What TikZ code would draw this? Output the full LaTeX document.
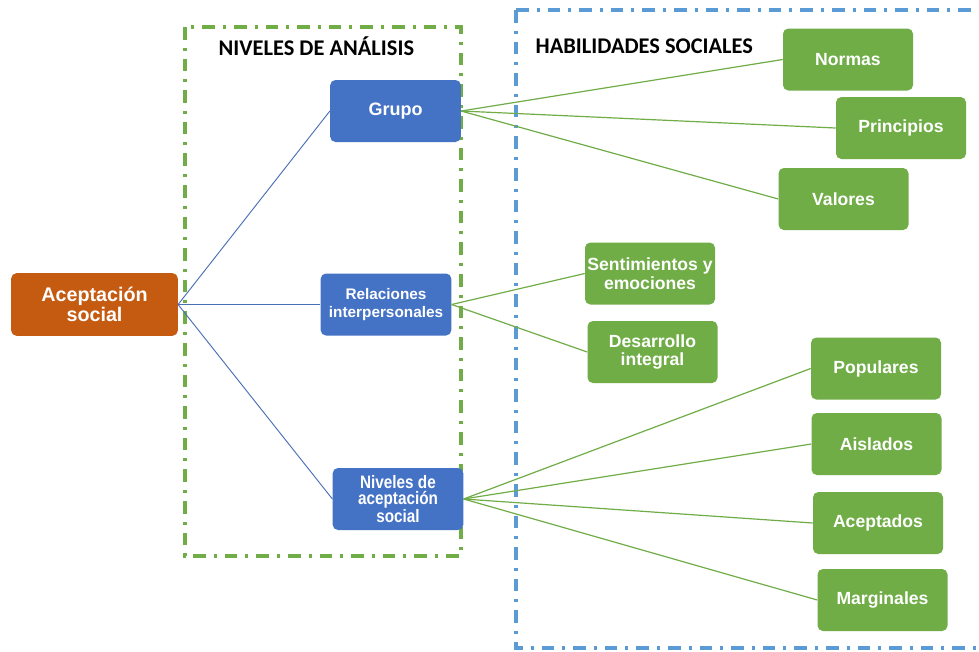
\documentclass[tikz,border=0pt]{standalone}
\usepackage{fontspec}
\setmainfont{Liberation Sans}
\newfontfamily\titlefont{Carlito}
\definecolor{orangeC}{HTML}{C55A11}
\definecolor{blueC}{HTML}{4472C4}
\definecolor{greenC}{HTML}{70AD47}
\definecolor{frameblue}{HTML}{5B9BD5}
\definecolor{linkblue}{HTML}{4A6FB5}
\begin{document}
\begin{tikzpicture}[x=0.75pt,y=-0.75pt,
  basebox/.style={rounded corners=4pt, text=white, font=\bfseries, align=center, inner sep=1pt},
  obox/.style={basebox, fill=orangeC, minimum width=125pt, minimum height=47pt, font=\bfseries\fontsize{14.8}{15.5}\selectfont},
  bbox/.style={basebox, fill=blueC, minimum width=98pt, minimum height=46.5pt, font=\bfseries\fontsize{13.5}{14.5}\selectfont},
  gbox/.style={basebox, fill=greenC, minimum width=97.5pt, minimum height=46.5pt, font=\bfseries\fontsize{13.2}{14}\selectfont},
  blink/.style={draw=linkblue, line width=0.7pt},
  glink/.style={draw=greenC, line width=0.9pt},
  frameG/.style={draw=greenC, line width=2.5pt, dash pattern=on 9.5pt off 6pt on 2.2pt off 6pt},
  frameB/.style={draw=frameblue, line width=2.5pt, dash pattern=on 9.5pt off 6pt on 2.2pt off 6pt},
  title/.style={font=\titlefont\bfseries\fontsize{16.8}{18}\selectfont, anchor=west}
]
\useasboundingbox (0,0) rectangle (979,651);
\fill[white] (0,0) rectangle (979,651);
% frames
\draw[frameG] (185,27) rectangle (461,556);
\draw[frameB] (516,10) -- (1000,10) (516,10) -- (516,648) -- (1000,648);
\node[title] (t1) at (214,46) {NIVELES DE ANÁLISIS};
\node[title] (t2) at (531,46) {HABILIDADES SOCIALES};
% nodes
\node[obox] (acep) at (94.5,304.5) {Aceptación\\social};
\node[bbox] (grupo) at (395.5,111) {Grupo};
\node[bbox, font=\bfseries\fontsize{11.5}{13}\selectfont] (rel) at (386,304.5) {Relaciones\\interpersonales};
\node[bbox, font=\bfseries\fontsize{13.5}{12.5}\selectfont] (niv) at (398,499) {\scalebox{0.85}[1]{Niveles de}\\\scalebox{0.85}[1]{aceptación}\\\scalebox{0.85}[1]{social}};
\node[gbox] (normas) at (848,59.5) {Normas};
\node[gbox] (princ) at (901,128) {Principios};
\node[gbox] (valores) at (843.5,199) {Valores};
\node[gbox] (sent) at (650,273.5) {Sentimientos y\\emociones};
\node[gbox] (desa) at (652.5,352) {Desarrollo\\integral};
\node[gbox] (pop) at (876,368.5) {Populares};
\node[gbox] (ais) at (876.5,444) {Aislados};
\node[gbox] (acept) at (878,523) {Aceptados};
\node[gbox] (marg) at (882.5,600) {Marginales};
% links
\draw[blink] (acep.east) -- (grupo.west);
\draw[blink] (acep.east) -- (rel.west);
\draw[blink] (acep.east) -- (niv.west);
\draw[glink] (grupo.east) -- (normas.west);
\draw[glink] (grupo.east) -- (princ.west);
\draw[glink] (grupo.east) -- (valores.west);
\draw[glink] (rel.east) -- (sent.west);
\draw[glink] (rel.east) -- (desa.west);
\draw[glink] (niv.east) -- (pop.west);
\draw[glink] (niv.east) -- (ais.west);
\draw[glink] (niv.east) -- (acept.west);
\draw[glink] (niv.east) -- (marg.west);
\end{tikzpicture}
\end{document}
